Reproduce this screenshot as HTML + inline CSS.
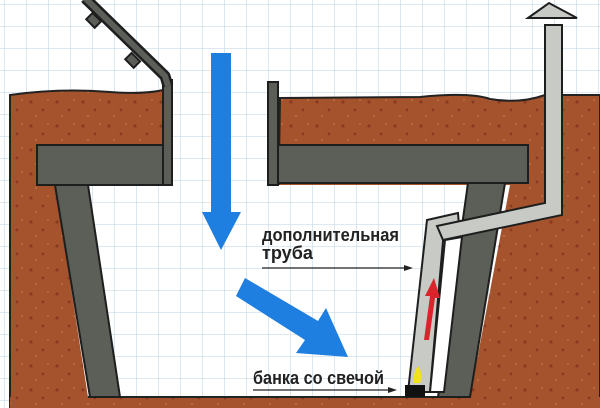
<!DOCTYPE html>
<html><head><meta charset="utf-8"><style>html,body{margin:0;padding:0;background:#fff}svg{display:block}</style></head><body>
<svg width="600" height="408" viewBox="0 0 600 408" xmlns="http://www.w3.org/2000/svg">
<defs>
<pattern id="g" width="22" height="22" patternUnits="userSpaceOnUse" x="4" y="4">
<path d="M0 0H22M0 0V22" stroke="#c9dbe8" stroke-width="1.3" fill="none"/>
</pattern>
<pattern id="s" width="26" height="24" patternUnits="userSpaceOnUse">
<rect width="26" height="24" fill="#a4532d"/>
<circle cx="5" cy="6" r="1.6" fill="#8a3a1f"/><circle cx="17" cy="14" r="1.4" fill="#8a3a1f"/><circle cx="10" cy="20" r="1.2" fill="#b66a3e"/><circle cx="22" cy="4" r="1.1" fill="#b66a3e"/>
</pattern>
</defs>
<rect width="600" height="408" fill="#fff"/>
<rect width="600" height="408" fill="url(#g)"/>
<!-- soil -->
<path d="M10 95 Q60 88 110 92 Q150 95 170 88 L170 408 L10 408 Z" fill="url(#s)" stroke="#222" stroke-width="2"/>
<path d="M280 98 L420 97 Q470 92 490 99 Q520 104 545 95 L600 95 L600 408 L275 408 Z" fill="url(#s)" stroke="#222" stroke-width="2"/>
<rect x="10" y="397" width="590" height="11" fill="url(#s)"/>
<!-- pit interior -->
<path d="M55 185 L510 185 L470 397 L88 397 Z" fill="#fff"/>
<path d="M55 185 L510 185 L470 397 L88 397 Z" fill="url(#g)"/>
<rect x="170" y="100" width="105" height="86" fill="#fff"/>
<rect x="170" y="100" width="105" height="86" fill="url(#g)"/>
<line x1="88" y1="397" x2="470" y2="397" stroke="#222" stroke-width="2"/>
<!-- slabs -->
<rect x="37" y="145" width="135" height="40" fill="#5b5f58" stroke="#1e1e1e" stroke-width="2"/>
<rect x="270" y="145" width="258" height="38" fill="#5b5f58" stroke="#1e1e1e" stroke-width="2"/>
<rect x="163" y="80" width="9" height="105" fill="#5b5f58" stroke="#1e1e1e" stroke-width="2"/>
<rect x="268" y="82" width="10" height="103" fill="#5b5f58" stroke="#1e1e1e" stroke-width="2"/>
<!-- hatch lid -->
<path d="M85 -2 L165 76 L168 86" stroke="#1e1e1e" stroke-width="11" fill="none" stroke-linejoin="round"/>
<path d="M85 -2 L165 76 L168 86" stroke="#5b5f58" stroke-width="6" fill="none" stroke-linejoin="round"/>
<rect x="88" y="16" width="12" height="9" fill="#5b5f58" stroke="#1e1e1e" stroke-width="2" transform="rotate(45 94 20)"/>
<rect x="127" y="56" width="12" height="9" fill="#5b5f58" stroke="#1e1e1e" stroke-width="2" transform="rotate(45 133 60)"/>
<!-- walls -->
<path d="M55 185 L88 185 L120 397 L90 397 Z" fill="#5b5f58" stroke="#1e1e1e" stroke-width="2"/>
<path d="M468 183 L505 183 L470 397 L438 397 Z" fill="#5b5f58" stroke="#1e1e1e" stroke-width="2"/>
<!-- additional tube -->
<path d="M427 220 L458 213 L460 237 L443 241 L430 392 L408 392 Z" fill="#c8cac6" stroke="#1e1e1e" stroke-width="2"/>
<path d="M445 240 L462 237 L444 392 L430 392 Z" fill="#fff" stroke="#1e1e1e" stroke-width="2"/>
<!-- chimney -->
<path d="M545 25 L562 25 L562 215 L443 240 L437 226 L545 203 Z" fill="#c8cac6" stroke="#1e1e1e" stroke-width="2"/>
<path d="M528 18 L549 3 L577 18 Z" fill="#c8cac6" stroke="#1e1e1e" stroke-width="2"/>
<!-- red arrow -->
<path d="M424 340 L430 296 L425 296 L434 278 L440 298 L435 298 L429 340 Z" fill="#d8242a"/>
<!-- candle -->
<rect x="405" y="385" width="20" height="12" fill="#111"/>
<path d="M418 366 Q424 375 420 383 L414 383 Q412 375 418 366 Z" fill="#f2e21d"/>
<!-- blue arrows -->
<path d="M211 53 L231 53 L231 212 L241 212 L221 250 L202 212 L211 212 Z" fill="#1e7fe0"/>
<path d="M245 278 L318 321 L326 308 L348 357 L296 353 L305 340 L236 296 Z" fill="#1e7fe0"/>
<!-- labels -->
<g font-family="'Liberation Sans','DejaVu Sans',sans-serif" font-size="18" fill="#222" font-weight="bold">
<text x="262" y="241" textLength="137" lengthAdjust="spacingAndGlyphs">дополнительная</text>
<text x="262" y="259" textLength="51" lengthAdjust="spacingAndGlyphs">труба</text>
<text x="253" y="384" textLength="131" lengthAdjust="spacingAndGlyphs">банка со свечой</text>
</g>
<line x1="262" y1="268" x2="406" y2="268" stroke="#222" stroke-width="1.3"/>
<path d="M404 265 L413 268 L404 271 Z" fill="#222"/>
<line x1="253" y1="390" x2="390" y2="390" stroke="#222" stroke-width="1.3"/>
<path d="M388 387 L397 390 L388 393 Z" fill="#222"/>
</svg>
</body></html>
